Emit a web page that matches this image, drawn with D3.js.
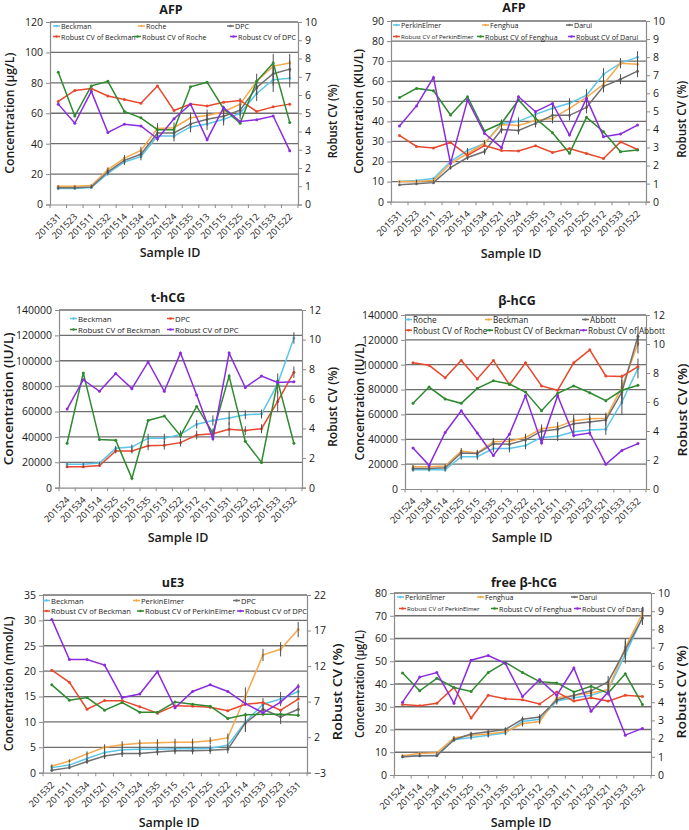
<!DOCTYPE html>
<html><head><meta charset="utf-8">
<script src="https://cdn.jsdelivr.net/npm/d3@7"></script>
<style>
body{margin:0;background:#fff}
svg{display:block}
text{font-family:"Open Sans","Noto Sans",sans-serif;fill:#1a1a1a}
</style>
</head><body>
<svg id="chart" width="689" height="830"></svg>
<script>
// ---------------- DATA ----------------
// Panel A: AFP (µg/L)
const afpACategories = ["201531","201523","201511","201532","201514","201534","201521","201524","201535","201513","201515","201525","201512","201533","201522"];
const afpABeckman = [10.5,10.5,11.2,20.5,28,31.5,45,45,51,53,56,60,73,82,83];
const afpARoche   = [12,12,12.5,23,30.5,35.5,50,50.5,57,58.5,61,66,81,91,93];
const afpADPC     = [11,11,11.5,21.5,29,33,47,47,53,56,58,62,77,86,89];
const afpACvBeckman = [5.65,6.25,6.35,5.95,5.75,5.55,6.5,5.15,5.5,5.4,5.6,5.7,5.1,5.35,5.5];
const afpACvRoche   = [7.25,4.85,6.5,6.75,5.1,4.75,4.1,4.1,6.45,6.7,5.25,4.45,6.75,7.75,4.5];
const afpACvDPC     = [5.5,4.45,6.2,3.95,4.4,4.3,3.6,4.7,5.5,3.55,5.3,4.55,4.65,4.85,2.95];
const afpAError     = [0.5,0.5,0.5,1.5,2,2.5,3.5,3.5,3.5,4,4,4,5,8,6];
const afpALeftTicks = [0,20,40,60,80,100,120];
const afpARightTicks = [0,1,2,3,4,5,6,7,8,9,10];

// Panel B: AFP (KIU/L)
const afpBCategories = ["201531","201523","201511","201532","201514","201534","201521","201524","201535","201513","201515","201525","201512","201533","201522"];
const afpBPerkinElmer = [10,10.5,11.5,20,25.5,29,39,40,43.5,46.5,49,53,63.5,69,72];
const afpBFenghua     = [10,10,10.5,19,24,29,38.5,38,40.5,41.5,46.5,52,58.5,69,68.5];
const afpBDarui       = [8.5,9,9.5,17,22,25,36,35.5,39,43,43,47,57.5,61,65];
const afpBCvPerkinElmer = [3.67,3.06,2.97,3.28,2.56,3.11,2.83,2.81,3.09,2.72,2.94,2.67,2.39,3.31,2.89];
const afpBCvFenghua     = [5.76,6.27,6.14,4.8,5.81,3.91,4.34,5.63,4.61,3.82,2.68,4.67,3.87,2.77,2.86];
const afpBCvDarui       = [4.19,5.3,6.88,2.12,5.63,3.78,2.99,5.81,4.98,5.44,3.69,5.72,3.6,3.75,4.24];
const afpBError         = [0.3,0.3,0.3,1,1.2,1.5,2,2,2,2.5,2.5,3,3,2.5,3];
const afpBLeftTicks = [0,10,20,30,40,50,60,70,80,90];
const afpBRightTicks = [0,1,2,3,4,5,6,7,8,9,10];

// Panel C: t-hCG (IU/L)
const thcgCategories = ["201524","201534","201514","201525","201515","201535","201513","201522","201512","201511","201531","201523","201521","201533","201532"];
const thcgBeckman = [18500,18500,19500,31000,32000,39000,39000,42000,50000,53000,55000,57500,58000,82000,118000];
const thcgDPC     = [16500,16500,17500,29000,29000,33000,33500,35500,41500,42500,46000,45000,46500,68000,91000];
const thcgCvBeckman = [3.0,7.75,3.25,3.2,0.63,4.54,4.84,3.51,5.49,3.69,7.54,3.13,1.71,7.2,3.0];
const thcgCvDPC     = [5.31,7.29,6.51,7.71,6.69,8.49,6.51,9.09,6.26,3.3,9.09,6.77,7.54,7.11,7.16];
const thcgError     = [800,800,800,2000,2000,3500,3500,3000,3500,4000,5500,3500,3500,8000,4500];
const thcgLeftTicks = [0,20000,40000,60000,80000,100000,120000,140000];
const thcgRightTicks = [0,2,4,6,8,10,12];

// Panel D: β-hCG (IU/L)
const bhcgCategories = ["201524","201534","201514","201525","201515","201535","201513","201522","201512","201511","201531","201523","201521","201533","201532"];
const bhcgRoche   = [15500,15500,15500,26000,26000,32500,32500,35000,41500,42500,46000,47500,48000,70000,97000];
const bhcgBeckman = [18000,18000,18500,30500,29000,38000,38500,41500,48500,50000,55000,56500,57000,82000,117000];
const bhcgAbbott  = [16500,16500,17000,29000,28500,36500,36000,39500,46500,48000,52500,54000,55500,78000,123000];
const bhcgCvRoche   = [8.7,8.53,7.67,8.87,7.59,8.87,7.2,8.7,7.11,6.81,8.7,9.6,7.8,7.76,8.44];
const bhcgCvBeckman = [5.91,7.03,6.21,5.91,6.94,7.46,7.24,6.69,5.4,6.6,7.11,6.64,6.09,6.81,7.16];
const bhcgCvAbbott  = [2.83,1.63,3.9,5.4,3.86,2.31,3.77,6.43,3.17,6.43,3.69,3.86,1.71,2.66,3.13];
const bhcgError     = [1500,1500,1500,2500,2500,3000,3000,3000,3500,4000,4500,4500,4500,10000,8000];
const bhcgLeftTicks = [0,20000,40000,60000,80000,100000,120000,140000];
const bhcgRightTicks = [0,2,4,6,8,10,12];

// Panel E: uE3 (nmol/L)
const ue3Categories = ["201532","201511","201534","201521","201513","201524","201535","201515","201512","201525","201522","201514","201533","201523","201531"];
const ue3Beckman     = [1.0,1.5,2.8,4.0,4.5,4.6,4.6,4.7,4.7,4.8,5.4,10.0,13.5,14.5,16.0];
const ue3PerkinElmer = [1.3,2.3,3.7,5.0,5.5,5.8,5.9,6.0,6.0,6.3,6.9,15.0,23.2,24.3,28.2];
const ue3DPC         = [0.5,1.0,2.2,3.3,3.8,3.8,4.1,4.3,4.3,4.4,4.6,9.8,12.5,11.0,12.5];
const ue3CvBeckman     = [11.43,9.71,5.93,7.14,7.14,6.29,5.36,6.43,6.36,6.21,5.71,6.64,6.86,5.79,7.36];
const ue3CvPerkinElmer = [9.36,7.21,7.57,5.79,6.86,5.5,5.5,6.93,6.64,6.36,4.64,5.14,5.21,5.21,5.07];
const ue3CvDPC         = [18.57,12.93,12.93,12.14,7.57,8.07,11.21,6.14,8.43,9.36,8.43,6.71,5.43,6.93,9.14];
const ue3Error         = [0.3,0.3,0.5,0.6,0.7,0.7,0.7,0.7,0.7,0.7,0.8,1.8,1.2,1.4,1.5];
const ue3LeftTicks = [0,5,10,15,20,25,30,35];
const ue3RightTicks = [-3,2,7,12,17,22];

// Panel F: free β-hCG (µg/L)
const fbhcgCategories = ["201524","201514","201534","201515","201525","201513","201535","201522","201512","201531","201511","201523","201521","201533","201532"];
const fbhcgPerkinElmer = [8.0,8.5,8.7,15.5,16.5,17.5,18.5,23.5,24.5,32.5,34,35,37.5,53,69];
const fbhcgFenghua     = [8.5,9.5,9.8,16.3,17.5,18,19,22.5,23.5,34,35,36,37.5,56,71];
const fbhcgDarui       = [8,8.5,8.5,15.5,18,19,20,24.5,25.5,33,35,37,41,55,69];
const fbhcgCvPerkinElmer = [3.88,3.81,3.94,4.81,3.13,4.38,4.19,4.13,3.9,4.56,4.06,4.25,4.06,4.38,4.31];
const fbhcgCvFenghua     = [5.6,4.63,5.31,4.81,4.59,5.63,6.19,5.63,5.13,5.06,4.56,4.88,4.5,5.56,3.88];
const fbhcgCvDarui       = [4.0,5.38,5.63,3.94,6.31,6.56,6.13,4.31,5.25,4.38,5.88,3.5,4.56,2.19,2.56];
const fbhcgError         = [0.4,0.4,0.4,0.8,1,1,1,1.2,1.2,1.5,1.5,1.5,2.5,4,3];
const fbhcgLeftTicks = [0,10,20,30,40,50,60,70,80];
const fbhcgRightTicks = [0,1,2,3,4,5,6,7,8,9,10];

// ---------------- STYLE ----------------
const COL = {blue:"#5cc6ea", orange:"#f5a94c", gray:"#707070", red:"#e8482d", green:"#2f8a2f", purple:"#8b2be0"};

const panels = [
  { title:"AFP", unit:"Concentration (µg/L)", categories:afpACategories, leftTicks:afpALeftTicks, rightTicks:afpARightTicks, error:afpAError,
    conc:[["Beckman",afpABeckman,COL.blue],["Roche",afpARoche,COL.orange],["DPC",afpADPC,COL.gray]],
    cv:[["Robust CV of Beckman",afpACvBeckman,COL.red],["Robust CV of Roche",afpACvRoche,COL.green],["Robust CV of DPC",afpACvDPC,COL.purple]],
    L:{left:50,right:298,top:22,bottom:204.5,titleX:171,titleY:9,leftTitleX:9,rightTitleX:332,sampleX:170,sampleY:252,leftLen:121,rightLen:74,
       legX:[[53,138,227],[53,134,230]],legY:[26,36.5],legFont:7.1,legSmallFont:6.1,legSmall:[]} },
  { title:"AFP", unit:"Concentration (KIU/L)", categories:afpBCategories, leftTicks:afpBLeftTicks, rightTicks:afpBRightTicks, error:afpBError,
    conc:[["PerkinElmer",afpBPerkinElmer,COL.blue],["Fenghua",afpBFenghua,COL.orange],["Darui",afpBDarui,COL.gray]],
    cv:[["Robust CV of PerkinElmer",afpBCvPerkinElmer,COL.red],["Robust CV of Fenghua",afpBCvFenghua,COL.green],["Robust CV of Darui",afpBCvDarui,COL.purple]],
    L:{left:391,right:646,top:21,bottom:201.7,titleX:514,titleY:7.5,leftTitleX:358,rightTitleX:681,sampleX:511,sampleY:253,leftLen:125,rightLen:77,
       legX:[[393,482,566],[393,477,568]],legY:[25,36.5],legFont:7.1,legSmallFont:6.1,legSmall:["Robust CV of PerkinElmer"]} },
  { title:"t-hCG", unit:"Concentration (IU/L)", categories:thcgCategories, leftTicks:thcgLeftTicks, rightTicks:thcgRightTicks, error:thcgError,
    conc:[["Beckman",thcgBeckman,COL.blue],["DPC",thcgDPC,COL.red]],
    cv:[["Robust CV of Beckman",thcgCvBeckman,COL.green],["Robust CV of DPC",thcgCvDPC,COL.purple]],
    L:{left:59,right:302,top:310,bottom:487.7,titleX:168,titleY:297,leftTitleX:8.5,rightTitleX:332,sampleX:178,sampleY:537,leftLen:133,rightLen:80,
       legX:[[70,167],[70,167]],legY:[318.5,329.5],legFont:7.8,legSmallFont:6.1,legSmall:[]} },
  { title:"β-hCG", unit:"Concentration (IU/L)", categories:bhcgCategories, leftTicks:bhcgLeftTicks, rightTicks:bhcgRightTicks, error:bhcgError,
    conc:[["Roche",bhcgRoche,COL.blue],["Beckman",bhcgBeckman,COL.orange],["Abbott",bhcgAbbott,COL.gray]],
    cv:[["Robust CV of Roche",bhcgCvRoche,COL.red],["Robust CV of Beckman",bhcgCvBeckman,COL.green],["Robust CV of Abbott",bhcgCvAbbott,COL.purple]],
    L:{left:405,right:646,top:315,bottom:489,titleX:517,titleY:300,leftTitleX:359,rightTitleX:682,sampleX:522,sampleY:537,leftLen:117,rightLen:93,
       legX:[[405,485,582],[405,486,580]],legY:[319.5,330.2],legFont:8.2,legSmallFont:6.1,legSmall:[]} },
  { title:"uE3", unit:"Concentration (nmol/L)", categories:ue3Categories, leftTicks:ue3LeftTicks, rightTicks:ue3RightTicks, error:ue3Error,
    conc:[["Beckman",ue3Beckman,COL.blue],["PerkinElmer",ue3PerkinElmer,COL.orange],["DPC",ue3DPC,COL.gray]],
    cv:[["Robust CV of Beckman",ue3CvBeckman,COL.red],["Robust CV of PerkinElmer",ue3CvPerkinElmer,COL.green],["Robust CV of DPC",ue3CvDPC,COL.purple]],
    L:{left:43,right:307,top:595,bottom:772.7,titleX:173,titleY:582,leftTitleX:8.5,rightTitleX:337,sampleX:169,sampleY:822,leftLen:135,rightLen:97,
       legX:[[43,133,233],[43,137,237]],legY:[600.5,611],legFont:7.6,legSmallFont:6.1,legSmall:[]} },
  { title:"free β-hCG", unit:"Concentration (µg/L)", categories:fbhcgCategories, leftTicks:fbhcgLeftTicks, rightTicks:fbhcgRightTicks, error:fbhcgError,
    conc:[["PerkinElmer",fbhcgPerkinElmer,COL.blue],["Fenghua",fbhcgFenghua,COL.orange],["Darui",fbhcgDarui,COL.gray]],
    cv:[["Robust CV of PerkinElmer",fbhcgCvPerkinElmer,COL.red],["Robust CV of Fenghua",fbhcgCvFenghua,COL.green],["Robust CV of Darui",fbhcgCvDarui,COL.purple]],
    L:{left:394,right:651,top:593,bottom:775,titleX:524,titleY:582,leftTitleX:359,rightTitleX:681,sampleX:521,sampleY:822,leftLen:108,rightLen:93,
       legX:[[397,477,571],[399,491,574]],legY:[597,608.5],legFont:7.1,legSmallFont:6.1,legSmall:["Robust CV of PerkinElmer"]} }
];

const svg = d3.select("#chart");

function styleAxis(g, size) {
  g.select(".domain").attr("stroke","#8c8c8c").attr("stroke-width",1.2);
  g.selectAll(".tick line").attr("stroke","#8c8c8c").attr("stroke-width",1);
  g.selectAll(".tick text").attr("font-family","'Open Sans',sans-serif").attr("font-size",size).attr("fill","#1a1a1a");
}

function drawPanel(p) {
  const L = p.L;
  const g = svg.append("g");
  const x = d3.scalePoint().domain(p.categories).range([L.left, L.right]).padding(0.5);
  const yL = d3.scaleLinear().domain([p.leftTicks[0], p.leftTicks[p.leftTicks.length-1]]).range([L.bottom, L.top]);
  const yR = d3.scaleLinear().domain([p.rightTicks[0], p.rightTicks[p.rightTicks.length-1]]).range([L.bottom, L.top]);

  // gridlines
  g.append("g").selectAll("line").data(p.leftTicks.slice(1)).join("line")
    .attr("x1", L.left).attr("x2", L.right)
    .attr("y1", d => yL(d)).attr("y2", d => yL(d))
    .attr("stroke", "#6e6e6e").attr("stroke-width", 1.3);

  // axes
  const gl = g.append("g").attr("transform", `translate(${L.left},0)`)
    .call(d3.axisLeft(yL).tickValues(p.leftTicks).tickSize(4).tickPadding(3).tickFormat(d3.format("d")));
  styleAxis(gl, 10.5);
  const gr = g.append("g").attr("transform", `translate(${L.right},0)`)
    .call(d3.axisRight(yR).tickValues(p.rightTicks).tickSize(4).tickPadding(3).tickFormat(d => d < 0 ? "\u2212" + Math.abs(d) : d));
  styleAxis(gr, 10.5);
  const gb = g.append("g").attr("transform", `translate(0,${L.bottom})`)
    .call(d3.axisBottom(x).tickSize(0).tickPadding(0));
  styleAxis(gb, 9.2);
  gb.selectAll(".tick text")
    .attr("y", 0).attr("dy", 0).attr("text-anchor", "end")
    .attr("dominant-baseline", "middle")
    .attr("transform", "translate(1,11) rotate(-45)");
  // category boundary ticks
  const step = x.step();
  const bounds = p.categories.map(c => x(c) - step / 2).concat([x(p.categories[p.categories.length - 1]) + step / 2]);
  gb.append("g").selectAll("line").data(bounds).join("line")
    .attr("x1", d => d).attr("x2", d => d).attr("y1", 0).attr("y2", 3.5)
    .attr("stroke", "#8c8c8c").attr("stroke-width", 1);

  // legend (drawn beneath data)
  const leg = g.append("g");
  [p.conc, p.cv].forEach((row, r) => {
    row.forEach((s, i) => {
      const lx = L.legX[r][i], ly = L.legY[r];
      leg.append("line").attr("x1", lx).attr("x2", lx + 7).attr("y1", ly).attr("y2", ly)
        .attr("stroke", s[2]).attr("stroke-width", 1.5);
      leg.append("circle").attr("cx", lx + 3.5).attr("cy", ly).attr("r", 1.2).attr("fill", s[2]);
      leg.append("text").attr("x", lx + 8).attr("y", ly).attr("dominant-baseline", "central")
        .attr("font-family", "Roboto, 'Open Sans', sans-serif")
        .attr("font-size", L.legSmall.includes(s[0]) ? L.legSmallFont : L.legFont)
        .text(s[0]);
    });
  });

  const lineL = d3.line().x((d, i) => x(p.categories[i])).y(d => yL(d));
  const lineR = d3.line().x((d, i) => x(p.categories[i])).y(d => yR(d));

  // concentration series
  p.conc.forEach(s => {
    g.append("path").attr("d", lineL(s[1])).attr("fill", "none").attr("stroke", s[2]).attr("stroke-width", 1.5);
    g.append("g").selectAll("circle").data(s[1]).join("circle")
      .attr("cx", (d, i) => x(p.categories[i])).attr("cy", d => yL(d)).attr("r", 1.5).attr("fill", s[2]);
  });
  // error bars
  p.conc.forEach(s => {
    g.append("g").selectAll("line").data(s[1]).join("line")
      .attr("x1", (d, i) => x(p.categories[i])).attr("x2", (d, i) => x(p.categories[i]))
      .attr("y1", (d, i) => yL(d - p.error[i])).attr("y2", (d, i) => yL(d + p.error[i]))
      .attr("stroke", "#505050").attr("stroke-width", 1);
  });
  // CV series
  p.cv.forEach(s => {
    g.append("path").attr("d", lineR(s[1])).attr("fill", "none").attr("stroke", s[2]).attr("stroke-width", 1.5);
    g.append("g").selectAll("circle").data(s[1]).join("circle")
      .attr("cx", (d, i) => x(p.categories[i])).attr("cy", d => yR(d)).attr("r", 1.5).attr("fill", s[2]);
  });

  // titles
  g.append("text").attr("x", L.titleX).attr("y", L.titleY).attr("text-anchor", "middle")
    .attr("dominant-baseline", "central").attr("font-size", 12.5).attr("font-weight", 700).text(p.title);
  const midY = (L.top + L.bottom) / 2;
  g.append("text").attr("transform", `translate(${L.leftTitleX},${midY}) rotate(-90)`)
    .attr("text-anchor", "middle").attr("dominant-baseline", "central")
    .attr("font-size", 12).attr("font-weight", 600)
    .attr("textLength", L.leftLen).attr("lengthAdjust", "spacingAndGlyphs").text(p.unit);
  g.append("text").attr("transform", `translate(${L.rightTitleX},${midY + 8}) rotate(-90)`)
    .attr("text-anchor", "middle").attr("dominant-baseline", "central")
    .attr("font-size", 12).attr("font-weight", 600)
    .attr("textLength", L.rightLen).attr("lengthAdjust", "spacingAndGlyphs").text("Robust CV (%)");
  g.append("text").attr("x", L.sampleX).attr("y", L.sampleY).attr("text-anchor", "middle")
    .attr("dominant-baseline", "central").attr("font-size", 12.5).attr("font-weight", 600).text("Sample ID");
}

panels.forEach(drawPanel);
</script>
</body></html>
